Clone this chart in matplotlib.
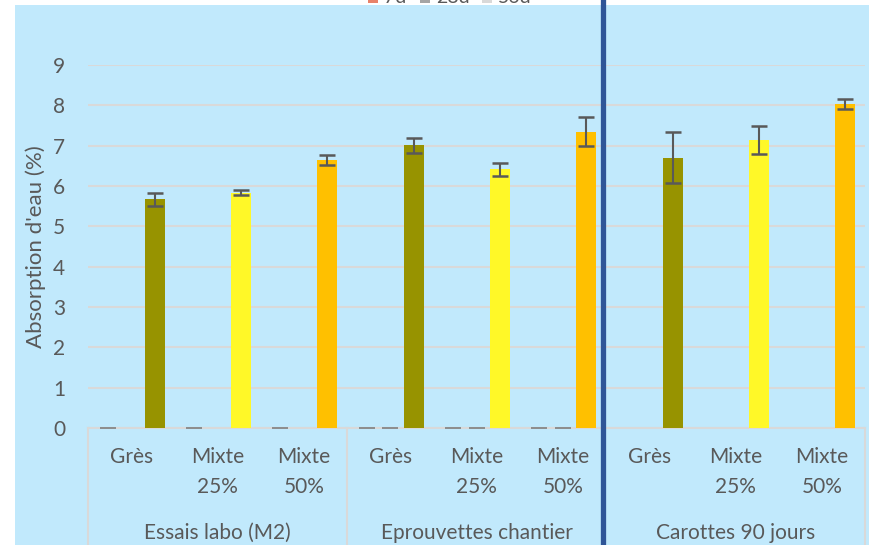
import numpy as np
import matplotlib.pyplot as plt
from matplotlib.patches import Rectangle
from matplotlib.lines import Line2D

plt.rcParams['font.family'] = ['Lato', 'DejaVu Sans']

# categories (3 groups x 3 materials)
groupes = ["Essais labo (M2)", "Eprouvettes chantier", "Carottes 90 jours"]
materiaux = ["Grès", "Mixte\n25%", "Mixte\n50%"]
series = ["7d", "28d", "56d"]

# absorption values (%) and standard deviations, one entry per category
val_7d = [0, 0, 0, 0, 0, 0, np.nan, np.nan, np.nan]
val_28d = [np.nan, np.nan, np.nan, 0, 0, 0, np.nan, np.nan, np.nan]
val_56d = [5.67, 5.83, 6.65, 7.01, 6.41, 7.35, 6.70, 7.14, 8.03]
err_56d = [0.16, 0.06, 0.12, 0.18, 0.15, 0.35, 0.63, 0.35, 0.12]

couleurs_mat = ["#979300", "#FFF828", "#FFC000"]
couleurs_leg = ["#E8826A", "#A5A5A5", "#D9D9D9"]
gris_txt = "#595959"
gris_ligne = "#D9D9D9"
fond = "#C1E9FC"

fig = plt.figure(figsize=(8.69, 5.45), dpi=100)
fig.patch.set_facecolor("white")
fig.add_artist(Rectangle((15 / 869, 0), 1, 540 / 545, transform=fig.transFigure,
                         facecolor=fond, edgecolor="none", zorder=0))

ax = fig.add_axes([88 / 869, 117 / 545, 777 / 869, 363 / 545])
ax.set_facecolor("none")

x = np.arange(9)
w = 0.23
off = 0.272

# zero-valued series only show as a short dash at the baseline
for vals, dx in [(val_7d, -off), (val_28d, 0)]:
    v = np.array(vals, dtype=float)
    ok = ~np.isnan(v)
    ax.errorbar(x[ok] + dx, v[ok], yerr=np.zeros(ok.sum()), fmt="none",
                ecolor="#8C8C8C", elinewidth=1, capsize=6, capthick=1.2, zorder=3)

bar_colors = [couleurs_mat[i % 3] for i in range(9)]
ax.bar(x + off, val_56d, width=w, color=bar_colors, zorder=3)
ax.errorbar(x + off, val_56d, yerr=err_56d, fmt="none", ecolor=gris_txt,
            elinewidth=1.5, capsize=6, capthick=1.8, zorder=4)

ax.set_xlim(-0.5, 8.5)
ax.set_ylim(0, 9)
ax.set_yticks(range(10))
ax.yaxis.grid(True, color=gris_ligne, lw=1.5, zorder=1)
ax.set_axisbelow(True)
ax.tick_params(axis="y", length=0, pad=16.5, labelsize=15, labelcolor=gris_txt)
ax.set_xticks([])
for s in ["top", "right", "left"]:
    ax.spines[s].set_visible(False)
ax.spines["bottom"].set_color(gris_ligne)
ax.spines["bottom"].set_linewidth(1.5)
ax.set_ylabel("Absorption d'eau (%)", fontsize=16, color=gris_txt, labelpad=5)

# two-level category axis
trans = ax.get_xaxis_transform()
for i in range(9):
    ax.text(x[i], -0.052, materiaux[i % 3], transform=trans, ha="center", va="top",
            fontsize=15, color=gris_txt, linespacing=1.65)
for g, nom in enumerate(groupes):
    ax.text(3 * g + 1, -0.29, nom, transform=trans, ha="center", va="center",
            fontsize=15, color=gris_txt)
for b in [-0.5, 2.5, 8.5]:
    ax.add_line(Line2D([b, b], [0, -0.35], transform=trans, color=gris_ligne,
                       lw=1.5, clip_on=False))

# separator between lab/site tests and cores
ax.axvline(5.47, ymin=-0.33, ymax=1.2, color="#2F5597", lw=3.8, clip_on=False, zorder=5)

# legend, mostly outside the top edge
lx = [368 / 869, 420 / 869, 482 / 869]
for xi, lab, c in zip(lx, series, couleurs_leg):
    fig.add_artist(Rectangle((xi, 1 - 3 / 545), 10 / 869, 8 / 545, transform=fig.transFigure,
                             facecolor=c, edgecolor="none"))
    fig.text(xi + 16 / 869, 1 - 3 / 545, lab, ha="left", va="baseline",
             fontsize=14, color=gris_txt)

fig.savefig("out.png", dpi=100)
